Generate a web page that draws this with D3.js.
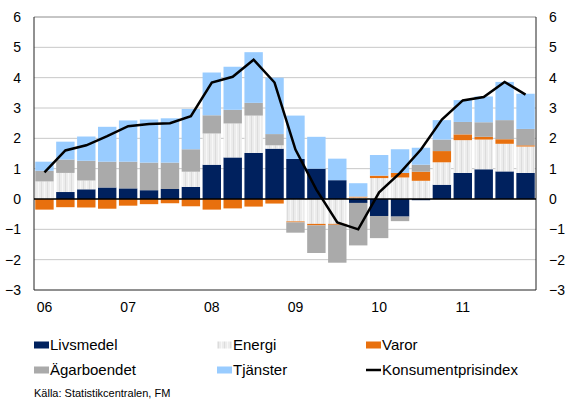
<!DOCTYPE html>
<html>
<head>
<meta charset="utf-8">
<script src="https://cdn.jsdelivr.net/npm/d3@7"></script>
<style>
  body { margin: 0; background: #fff; }
  svg { font-family: "Liberation Sans", Arial, sans-serif; }
</style>
</head>
<body>
<svg width="565" height="403"></svg>
<script>
// quarters 2006Q1 .. 2011Q4
var quarters = [];
[2006, 2007, 2008, 2009, 2010, 2011].forEach(function (y) {
    for (var q = 1; q <= 4; q++) quarters.push(y + "Q" + q);
});
var yearLabels = ["06", "07", "08", "09", "10", "11"];

var livsmedel   = [0, 0.23, 0.32, 0.38, 0.35, 0.29, 0.33, 0.40, 1.13, 1.37, 1.52, 1.66, 1.32, 1.00, 0.62, -0.13, -0.56, -0.58, -0.04, 0.47, 0.86, 0.98, 0.91, 0.86];
var energi      = [0.58, 0.63, 0.29, 0, 0, 0, 0, 0.50, 1.03, 1.12, 1.23, 0.11, -0.74, -0.82, -0.82, 0.05, 0.69, 0.71, 0.60, 0.74, 1.08, 0.98, 0.91, 0.87];
var varor       = [-0.35, -0.27, -0.28, -0.32, -0.22, -0.17, -0.14, -0.24, -0.35, -0.31, -0.25, -0.15, -0.03, -0.05, -0.03, 0.03, 0.08, 0.15, 0.30, 0.37, 0.19, 0.09, 0.15, 0.04];
var agarboendet = [0.35, 0.44, 0.65, 0.85, 0.88, 0.91, 0.87, 0.74, 0.60, 0.45, 0.42, 0.37, -0.34, -0.91, -1.25, -1.40, -0.73, -0.15, 0.23, 0.38, 0.41, 0.48, 0.63, 0.54];
var tjanster    = [0.30, 0.59, 0.80, 1.15, 1.36, 1.42, 1.46, 1.33, 1.41, 1.42, 1.67, 1.86, 1.43, 1.05, 0.71, 0.44, 0.68, 0.78, 0.56, 0.64, 0.72, 0.85, 1.26, 1.16];
var kpi         = [0.88, 1.60, 1.77, 2.07, 2.40, 2.47, 2.50, 2.73, 3.84, 4.03, 4.59, 3.84, 1.63, 0.31, -0.77, -1.00, 0.22, 0.86, 1.63, 2.62, 3.25, 3.36, 3.86, 3.44];

var seriesNames = ["Livsmedel", "Energi", "Varor", "Ägarboendet", "Tjänster"];
var seriesVals = [livsmedel, energi, varor, agarboendet, tjanster];
var colors = ["#00215e", "url(#energi)", "#e8700e", "#aaaaaa", "#99ccff"];

var margin = {top: 17, right: 29, bottom: 113, left: 34};
var width = 565 - margin.left - margin.right,
    height = 403 - margin.top - margin.bottom;

var svg = d3.select("svg");

// striped fill for Energi
var pat = svg.append("defs").append("pattern")
    .attr("id", "energi")
    .attr("patternUnits", "userSpaceOnUse")
    .attr("width", 6).attr("height", 6);
pat.append("rect").attr("width", 6).attr("height", 6).attr("fill", "#ececec");
pat.append("rect").attr("x", 1).attr("width", 1).attr("height", 6).attr("fill", "#dcdcdc");
pat.append("rect").attr("x", 4).attr("width", 1).attr("height", 6).attr("fill", "#f7f7f7");

var g = svg.append("g")
    .attr("transform", "translate(" + margin.left + "," + margin.top + ")");

var x = d3.scaleBand()
    .domain(quarters)
    .range([0, width])
    .paddingInner(0.12)
    .paddingOuter(0.06);

var y = d3.scaleLinear()
    .domain([-3, 6])
    .range([height, 0]);

// gridlines
g.append("g")
    .selectAll("line")
    .data(d3.range(-2, 7))
    .enter().append("line")
    .attr("x1", 0).attr("x2", width)
    .attr("y1", d => y(d)).attr("y2", d => y(d))
    .attr("stroke", d => d === 6 ? "#8c8c8c" : "#c8c8c8")
    .attr("stroke-width", 1);

// stacked bars
var table = quarters.map(function (q, i) {
    var row = {q: q};
    seriesNames.forEach(function (s, j) { row[s] = seriesVals[j][i]; });
    return row;
});
var stack = d3.stack().keys(seriesNames).offset(d3.stackOffsetDiverging)(table);

g.append("g")
    .selectAll("g")
    .data(stack)
    .enter().append("g")
    .attr("fill", (d, i) => colors[i])
    .selectAll("rect")
    .data(d => d)
    .enter().append("rect")
    .attr("x", d => x(d.data.q))
    .attr("width", x.bandwidth())
    .attr("y", d => y(Math.max(d[0], d[1])))
    .attr("height", d => Math.abs(y(d[0]) - y(d[1])));

// frame
g.append("line").attr("x1", 0).attr("x2", 0).attr("y1", 0).attr("y2", height).attr("stroke", "#222");
g.append("line").attr("x1", width).attr("x2", width).attr("y1", 0).attr("y2", height).attr("stroke", "#222");
g.append("line").attr("x1", 0).attr("x2", width).attr("y1", height).attr("y2", height).attr("stroke", "#222");

// zero line
g.append("line")
    .attr("x1", 0).attr("x2", width)
    .attr("y1", y(0)).attr("y2", y(0))
    .attr("stroke", "#000").attr("stroke-width", 1.3);

// KPI line
var line = d3.line()
    .x((d, i) => x(quarters[i]) + x.bandwidth() / 2)
    .y(d => y(d));
g.append("path")
    .datum(kpi)
    .attr("fill", "none")
    .attr("stroke", "#000")
    .attr("stroke-width", 2.5)
    .attr("stroke-linejoin", "miter")
    .attr("d", line);

// y axes
var yLeft = g.append("g")
    .call(d3.axisLeft(y).tickValues(d3.range(-3, 7)).tickSize(0).tickPadding(13).tickFormat(d3.format("d")));
var yRight = g.append("g")
    .attr("transform", "translate(" + width + ",0)")
    .call(d3.axisRight(y).tickValues(d3.range(-3, 7)).tickSize(0).tickPadding(13).tickFormat(d3.format("d")));
[yLeft, yRight].forEach(function (a) {
    a.select(".domain").remove();
    a.selectAll("text").attr("font-size", 14).attr("fill", "#000")
        .attr("font-family", "Liberation Sans, Arial, sans-serif");
});

// x axis, year label under first quarter
var firstQ = quarters.filter(q => q.endsWith("Q1"));
var xAxis = g.append("g")
    .attr("transform", "translate(0," + height + ")")
    .call(d3.axisBottom(x).tickValues(firstQ).tickSize(0).tickPadding(12)
        .tickFormat((d, i) => yearLabels[i]));
xAxis.select(".domain").remove();
xAxis.selectAll("text").attr("font-size", 14).attr("fill", "#000")
    .attr("font-family", "Liberation Sans, Arial, sans-serif");

// legend
var legendItems = [
    {name: "Livsmedel", color: colors[0], x: 34, y: 345},
    {name: "Energi", color: colors[1], x: 217, y: 345},
    {name: "Varor", color: colors[2], x: 366, y: 345},
    {name: "Ägarboendet", color: colors[3], x: 34, y: 370},
    {name: "Tjänster", color: colors[4], x: 217, y: 370},
    {name: "Konsumentprisindex", line: true, x: 366, y: 370}
];
var leg = svg.append("g").selectAll("g")
    .data(legendItems)
    .enter().append("g")
    .attr("transform", d => "translate(" + d.x + "," + d.y + ")");
leg.each(function (d) {
    var s = d3.select(this);
    if (d.line) {
        s.append("line").attr("x1", 0).attr("x2", 15).attr("y1", 0).attr("y2", 0)
            .attr("stroke", "#000").attr("stroke-width", 2.5);
    } else {
        s.append("rect").attr("x", 0).attr("y", -3.5).attr("width", 15).attr("height", 7)
            .attr("fill", d.color);
    }
});
leg.append("text")
    .attr("x", 16)
    .attr("dy", "0.36em")
    .attr("font-size", 15)
    .text(d => d.name);

svg.append("text")
    .attr("x", 34).attr("y", 397)
    .attr("font-size", 11)
    .text("Källa: Statistikcentralen, FM");
</script>
</body>
</html>
